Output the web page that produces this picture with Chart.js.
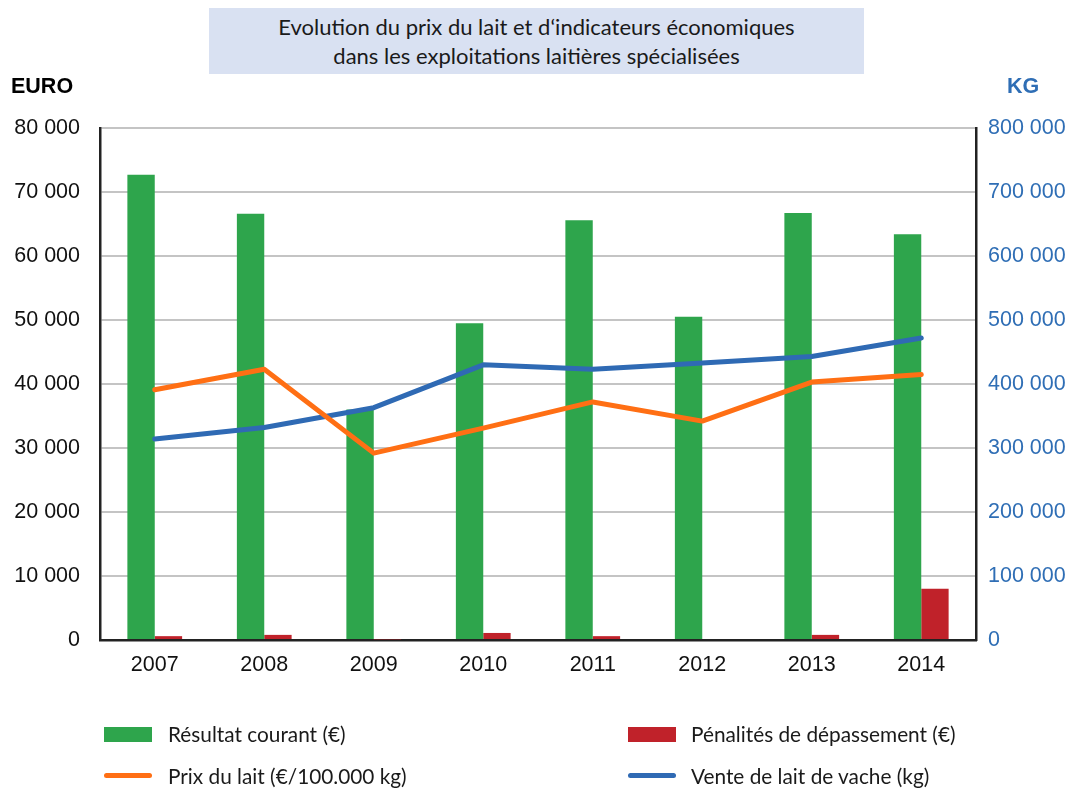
<!DOCTYPE html>
<html>
<head>
<meta charset="utf-8">
<script src="https://cdn.jsdelivr.net/npm/chart.js@4/dist/chart.umd.min.js"></script>
<style>
  html, body { margin: 0; padding: 0; background: #fff; }
  #wrap { position: relative; width: 1071px; height: 788px; overflow: hidden; }
  #c { position: absolute; left: 0; top: 0; }
  .title { position: absolute; left: 209px; top: 8px; width: 655px; height: 66px; background: #D9E1F2;
           font-family: Lato, "Open Sans", sans-serif; font-size: 22px; color: #1a1a1a; text-align: center;
           line-height: 29px; box-sizing: border-box; padding-top: 4px; }
  .axt { position: absolute; font-family: "Liberation Sans", Arial, sans-serif; font-weight: bold; font-size: 21.5px; }
  .leg { position: absolute; font-family: Lato, "Open Sans", sans-serif; font-size: 20.8px; color: #1a1a1a; white-space: nowrap; }
  .sw { position: absolute; }
</style>
</head>
<body>
<div id="wrap">
  <canvas id="c" width="1071" height="788"></canvas>
  <div class="title">Evolution du prix du lait et d‘indicateurs économiques<br>dans les exploitations laitières spécialisées</div>
  <div class="axt" style="left:11px; top:74px; color:#000;">EURO</div>
  <div class="axt" style="left:1007px; top:74px; color:#2F6EB5;">KG</div>

  <div class="sw" style="left:104px; top:727px; width:48px; height:15px; background:#2EA54C;"></div>
  <div class="leg" style="left:168px; top:721px;">Résultat courant (€)</div>
  <div class="sw" style="left:628px; top:727px; width:48px; height:15px; background:#C0222A;"></div>
  <div class="leg" style="left:691px; top:721px;">Pénalités de dépassement (€)</div>
  <div class="sw" style="left:104px; top:773px; width:48px; height:5px; border-radius:3px; background:#FF6F14;"></div>
  <div class="leg" style="left:168px; top:763px;">Prix du lait (€/100.000 kg)</div>
  <div class="sw" style="left:628px; top:773px; width:48px; height:5px; border-radius:3px; background:#2F6AB4;"></div>
  <div class="leg" style="left:691px; top:763px;">Vente de lait de vache (kg)</div>
</div>
<script>
const years = ['2007', '2008', '2009', '2010', '2011', '2012', '2013', '2014'];
const resultatCourant = [72700, 66600, 36000, 49500, 65600, 50500, 66700, 63400];
const penalites = [600, 800, 100, 1100, 600, 0, 800, 8000];
const prixLait = [39100, 42300, 29200, 33100, 37200, 34200, 40300, 41500];
const venteLait = [314000, 332000, 363000, 430000, 423000, 433000, 443000, 472000];

const fmt = v => String(v).replace(/\B(?=(\d{3})+(?!\d))/g, ' ');
const tickFont = { family: 'Liberation Sans, Arial, sans-serif', size: 21.5 };

new Chart(document.getElementById('c'), {
  data: {
    labels: years,
    datasets: [
      { type: 'line', label: 'Prix du lait (€/100.000 kg)', data: prixLait, yAxisID: 'y',
        borderColor: '#FF6F14', borderWidth: 5, pointRadius: 0, tension: 0, borderCapStyle: 'round', borderJoinStyle: 'round', order: 0 },
      { type: 'line', label: 'Vente de lait de vache (kg)', data: venteLait, yAxisID: 'y1',
        borderColor: '#2F6AB4', borderWidth: 5, pointRadius: 0, tension: 0, borderCapStyle: 'round', borderJoinStyle: 'round', order: 1 },
      { type: 'bar', label: 'Résultat courant (€)', data: resultatCourant, yAxisID: 'y',
        backgroundColor: '#2EA54C', categoryPercentage: 0.5, barPercentage: 1, order: 2 },
      { type: 'bar', label: 'Pénalités de dépassement (€)', data: penalites, yAxisID: 'y',
        backgroundColor: '#C0222A', categoryPercentage: 0.5, barPercentage: 1, order: 3 }
    ]
  },
  options: {
    responsive: false,
    animation: false,
    layout: { padding: { top: 128, left: 0, right: 0, bottom: 0 } },
    plugins: { legend: { display: false }, tooltip: { enabled: false } },
    scales: {
      x: {
        type: 'category',
        offset: true,
        grid: { color: 'rgba(0,0,0,0)', drawTicks: false },
        border: { display: true, color: '#222', width: 2.5 },
        ticks: { font: tickFont, color: '#111', padding: 12, maxRotation: 0 },
        afterFit: s => { s.height = 148; }
      },
      y: {
        position: 'left', min: 0, max: 80000,
        grid: { color: '#C4C4C4', lineWidth: 2, drawTicks: false },
        border: { display: true, color: '#222', width: 2.5 },
        ticks: { stepSize: 10000, font: tickFont, color: '#111', padding: 20, callback: v => fmt(v) },
        afterFit: s => { s.width = 100; }
      },
      y1: {
        position: 'right', min: 0, max: 800000,
        grid: { drawOnChartArea: false, drawTicks: false, color: 'rgba(0,0,0,0)' },
        border: { display: true, color: '#222', width: 2.5 },
        ticks: { stepSize: 100000, font: tickFont, color: '#2F6EB5', padding: 12, callback: v => fmt(v) },
        afterFit: s => { s.width = 95; }
      }
    }
  }
});
</script>
</body>
</html>
